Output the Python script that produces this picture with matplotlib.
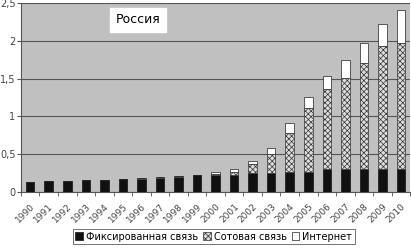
import matplotlib
matplotlib.use("Agg")
import matplotlib.pyplot as plt
import numpy as np

years = [str(y) for y in range(1990, 2011)]
fixed = [0.13, 0.15, 0.15, 0.155, 0.16, 0.17, 0.175, 0.19, 0.20, 0.22, 0.22,
         0.23, 0.245, 0.245, 0.26, 0.27, 0.31, 0.31, 0.31, 0.31, 0.31]
cellular = [0.0, 0.0, 0.0, 0.003, 0.003, 0.004, 0.005, 0.005, 0.008, 0.008, 0.02,
            0.04, 0.125, 0.255, 0.52, 0.84, 1.05, 1.20, 1.40, 1.62, 1.66]
internet = [0.0, 0.0, 0.0, 0.0, 0.0, 0.0, 0.0, 0.0, 0.0, 0.0, 0.02,
            0.03, 0.04, 0.08, 0.13, 0.15, 0.18, 0.24, 0.26, 0.29, 0.44]
yticks = [0, 0.5, 1, 1.5, 2, 2.5]
ylabels = ["0", "0,5", "1", "1,5", "2", "2,5"]

plt.rcParams["font.family"] = "DejaVu Sans"
plt.rcParams["hatch.linewidth"] = 0.5

fig = plt.figure(figsize=(4.11, 2.49), dpi=100)
ax = fig.add_axes([0.051, 0.229, 0.947, 0.759])
ax.set_facecolor("#c0c0c0")

x = np.arange(len(years))
w = 0.46
fixed = np.array(fixed)
cellular = np.array(cellular)
internet = np.array(internet)

ax.bar(x, fixed, w, color="#111111", edgecolor="#111111", linewidth=0.5,
       label="Фиксированная связь", zorder=3)
ax.bar(x, cellular, w, bottom=fixed, facecolor="#dddddd", edgecolor="#333333",
       hatch="xxxxxx", linewidth=0.5, label="Сотовая связь", zorder=3)
ax.bar(x, internet, w, bottom=fixed + cellular, color="white",
       edgecolor="#222222", linewidth=0.5, label="Интернет", zorder=3)

ax.set_xlim(-0.5, len(years) - 0.5)
ax.set_ylim(0, 2.5)
ax.set_yticks(yticks)
ax.set_yticklabels(ylabels, fontsize=7, color="#444444")
ax.set_xticks(x)
ax.set_xticklabels(years, rotation=45, fontsize=6.5, color="#444444",
                   ha="right", rotation_mode="anchor")
ax.set_xticks(np.arange(len(years) + 1) - 0.5, minor=True)
ax.tick_params(axis="x", which="major", length=0, pad=7)
ax.tick_params(axis="x", which="minor", length=3, color="#555555", direction="out")
ax.tick_params(axis="y", length=3, color="#555555", direction="out", pad=1)
ax.yaxis.grid(True, color="#555555", linewidth=0.8, zorder=1)
ax.set_axisbelow(True)
for s in ["top", "right"]:
    ax.spines[s].set_visible(False)
ax.spines["left"].set_color("#555555")
ax.spines["bottom"].set_color("#555555")

ax.text(0.30, 0.91, "Россия", transform=ax.transAxes, fontsize=9,
        ha="center", va="center",
        bbox=dict(facecolor="white", edgecolor="white",
                  boxstyle="square,pad=0.45"))

leg = fig.legend(loc="lower center", bbox_to_anchor=(0.52, 0.02), ncol=3,
                 fontsize=7, frameon=True, fancybox=False, handlelength=0.8,
                 handleheight=0.8, handletextpad=0.3, columnspacing=0.5,
                 borderpad=0.25, borderaxespad=0)
leg.get_frame().set_edgecolor("#333333")
leg.get_frame().set_linewidth(0.6)

fig.savefig("out.png", dpi=100)
